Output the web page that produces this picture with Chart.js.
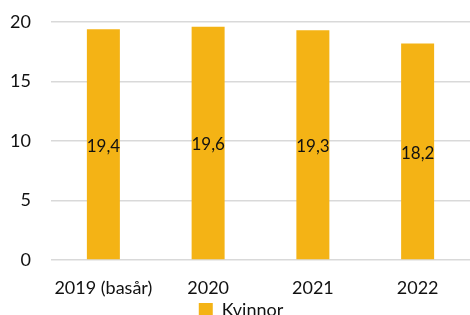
<!DOCTYPE html>
<html>
<head>
<meta charset="utf-8">
<script src="https://cdn.jsdelivr.net/npm/chart.js@4"></script>
<style>
  html, body { margin: 0; padding: 0; background: #fff; overflow: hidden; }
  canvas { display: block; }
</style>
</head>
<body>
<canvas id="chart" width="470" height="315"></canvas>
<script>
var years = ['2019 (basår)', '2020', '2021', '2022'];
var kvinnor = [19.4, 19.6, 19.3, 18.2];
var yTicks = [0, 5, 10, 15, 20];

var FONT = 'Lato, "Open Sans", sans-serif';

// etiketter mitt i staplarna, med decimalkomma
var barLabels = {
    id: 'barLabels',
    afterDatasetsDraw: function(chart) {
        var ctx = chart.ctx;
        ctx.save();
        ctx.font = '17px ' + FONT;
        ctx.fillStyle = '#111';
        ctx.textAlign = 'center';
        ctx.textBaseline = 'middle';
        chart.getDatasetMeta(0).data.forEach(function(bar, i) {
            var v = chart.data.datasets[0].data[i];
            ctx.fillText(v.toFixed(1).replace('.', ','), bar.x, (bar.y + bar.base) / 2 + 2);
        });
        ctx.restore();
    }
};

new Chart(document.getElementById('chart'), {
    type: 'bar',
    data: {
        labels: years,
        datasets: [{
            label: 'Kvinnor',
            data: kvinnor,
            backgroundColor: '#F4B315',
            borderWidth: 0,
            barPercentage: 0.315,
            categoryPercentage: 1
        }]
    },
    options: {
        responsive: false,
        animation: false,
        layout: { padding: { top: 22, right: -4, left: 8, bottom: -14 } },
        plugins: {
            legend: {
                position: 'bottom',
                labels: { boxWidth: 14, boxHeight: 14, color: '#111', font: { family: FONT, size: 18 }, padding: 0 }
            },
            tooltip: { enabled: false }
        },
        scales: {
            y: {
                min: 0, max: 20,
                afterBuildTicks: function(axis) { axis.ticks = yTicks.map(function(v) { return { value: v }; }); },
                afterFit: function(axis) { axis.width = 43; axis.paddingTop = 0; axis.paddingBottom = 0; },
                ticks: { color: '#111', font: { family: FONT, size: 18 }, padding: 20 },
                grid: { color: '#d9d9d9', lineWidth: 1.5, drawTicks: false },
                border: { display: false }
            },
            x: {
                afterFit: function(axis) { axis.height = 41; },
                ticks: { color: '#111', font: { family: FONT, size: 18 }, padding: 9 },
                grid: { display: false },
                border: { display: false }
            }
        }
    },
    plugins: [barLabels]
});
</script>
</body>
</html>
